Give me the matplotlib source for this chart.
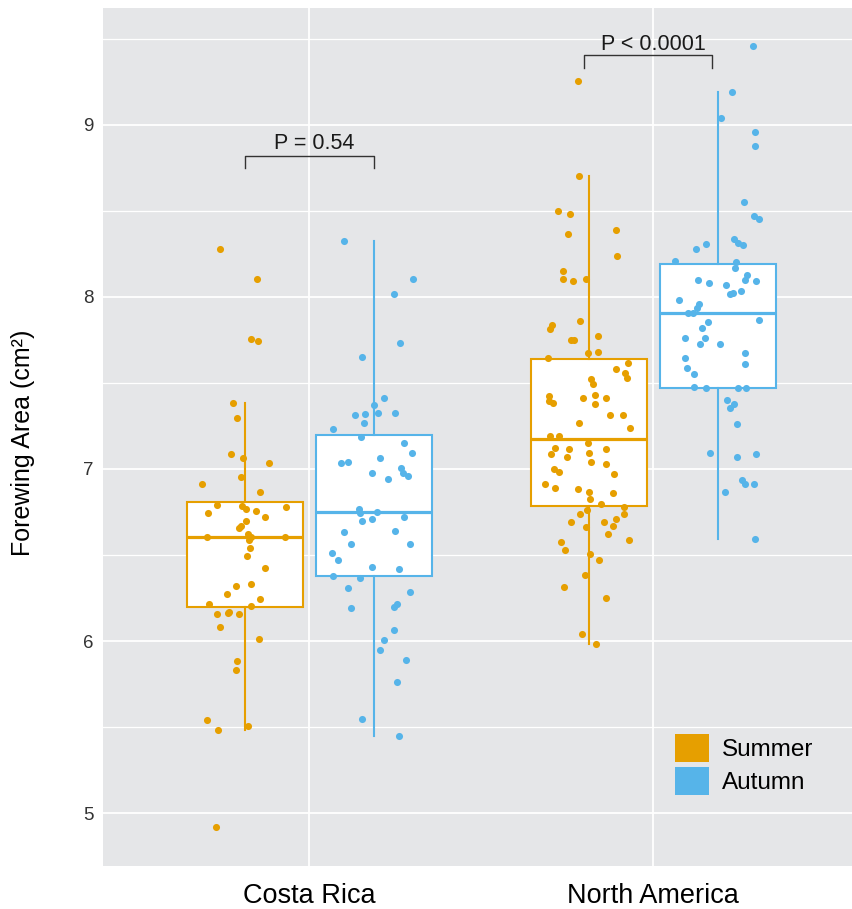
import matplotlib
matplotlib.use("Agg")
import matplotlib.pyplot as plt
from matplotlib.patches import Patch
from matplotlib.ticker import MultipleLocator

plt.rcParams["font.family"] = ["Liberation Sans", "DejaVu Sans"]

# --- data ---
regions = ["Costa Rica", "North America"]
seasons = ["Summer", "Autumn"]

cr_summer = [8.279, 8.105, 7.756, 7.745, 7.386, 7.297, 7.087, 7.064, 7.035, 6.911,
             6.953, 6.866, 6.789, 6.742, 6.783, 6.766, 6.758, 6.779, 6.721, 6.700,
             6.671, 6.657, 6.605, 6.620, 6.602, 6.587, 6.605, 6.543, 6.496, 6.423,
             6.320, 6.330, 6.272, 6.243, 6.214, 6.204, 6.155, 6.169, 6.155, 6.160,
             6.080, 6.010, 5.884, 5.834, 5.541, 5.483, 5.506, 4.917]
cr_summer_jit = [-0.071, 0.035, 0.019, 0.038, -0.035, -0.024, -0.039, -0.006, 0.070, -0.126,
                 -0.010, 0.045, -0.081, -0.107, -0.007, 0.003, 0.031, 0.121, 0.060, 0.002,
                 -0.010, -0.016, -0.110, 0.010, 0.019, 0.013, 0.118, 0.015, 0.006, 0.060,
                 -0.027, 0.019, -0.052, 0.045, -0.104, 0.017, -0.081, -0.046, -0.016, -0.048,
                 -0.071, 0.042, -0.023, -0.027, -0.110, -0.078, 0.009, -0.085]

cr_autumn = [8.324, 8.105, 8.017, 7.733, 7.653, 7.413, 7.370, 7.312, 7.318, 7.326,
             7.326, 7.267, 7.231, 7.188, 7.151, 7.093, 7.064, 7.035, 7.043, 7.008,
             6.977, 6.962, 6.977, 6.940, 6.770, 6.747, 6.750, 6.723, 6.700, 6.708,
             6.634, 6.642, 6.562, 6.562, 6.510, 6.473, 6.430, 6.417, 6.380, 6.365,
             6.307, 6.285, 6.213, 6.198, 6.190, 6.066, 6.008, 5.948, 5.890, 5.760,
             5.549, 5.446]
cr_autumn_jit = [-0.087, 0.113, 0.058, 0.076, -0.033, 0.029, 0.000, -0.054, -0.025, 0.011,
                 0.062, -0.029, -0.120, -0.037, 0.087, 0.110, 0.018, -0.094, -0.076, 0.079,
                 0.084, 0.098, -0.004, 0.040, -0.044, -0.040, 0.008, 0.087, -0.033, -0.004,
                 -0.087, 0.062, -0.065, 0.106, -0.123, -0.105, -0.004, 0.073, -0.119, -0.040,
                 -0.076, 0.106, 0.066, 0.059, -0.065, 0.059, 0.029, 0.018, 0.095, 0.066,
                 -0.033, 0.073]

na_summer = [9.256, 8.703, 8.498, 8.484, 8.368, 8.390, 8.237, 8.149, 8.106, 8.091,
             8.106, 7.837, 7.814, 7.859, 7.771, 7.750, 7.750, 7.674, 7.682, 7.647,
             7.618, 7.581, 7.560, 7.529, 7.523, 7.493, 7.425, 7.415, 7.429, 7.415,
             7.395, 7.384, 7.376, 7.314, 7.314, 7.270, 7.238, 7.191, 7.191, 7.153,
             7.122, 7.115, 7.115, 7.085, 7.093, 7.072, 7.043, 7.028, 6.998, 6.983,
             6.969, 6.911, 6.890, 6.882, 6.869, 6.859, 6.825, 6.795, 6.781, 6.764,
             6.737, 6.737, 6.708, 6.692, 6.692, 6.671, 6.663, 6.621, 6.590, 6.576,
             6.531, 6.504, 6.473, 6.386, 6.313, 6.249, 6.043, 5.985]
na_summer_jit = [-0.032, -0.029, -0.090, -0.054, -0.061, 0.080, 0.083, -0.076, -0.076, -0.047,
                 -0.007, -0.108, -0.112, -0.025, 0.026, -0.053, -0.043, -0.003, 0.026, -0.119,
                 0.113, 0.080, 0.106, 0.110, 0.007, 0.012, -0.115, -0.017, 0.019, 0.049,
                 -0.116, -0.104, 0.019, 0.062, 0.099, -0.028, 0.121, -0.112, -0.086, -0.003,
                 -0.097, -0.057, 0.049, -0.111, 0.001, -0.064, 0.008, 0.051, -0.102, -0.086,
                 0.074, -0.127, -0.097, -0.032, 0.001, 0.071, 0.005, 0.037, 0.102, -0.006,
                 -0.025, 0.102, 0.078, -0.053, 0.045, 0.070, -0.007, 0.055, 0.116, -0.082,
                 -0.068, 0.005, 0.030, -0.010, -0.072, 0.051, -0.021, 0.022]

na_autumn = [9.461, 9.192, 9.039, 8.957, 8.878, 8.551, 8.471, 8.453, 8.339, 8.312,
             8.301, 8.310, 8.281, 8.211, 8.202, 8.169, 8.128, 8.099, 8.091, 8.099,
             8.081, 8.068, 8.033, 8.025, 8.017, 7.983, 7.959, 7.936, 7.909, 7.909,
             7.857, 7.865, 7.822, 7.764, 7.764, 7.727, 7.727, 7.674, 7.647, 7.610,
             7.587, 7.552, 7.477, 7.471, 7.471, 7.471, 7.401, 7.376, 7.353, 7.260,
             7.093, 7.072, 7.087, 6.934, 6.911, 6.911, 6.866, 6.592]
na_autumn_jit = [0.102, 0.042, 0.010, 0.109, 0.109, 0.077, 0.106, 0.119, 0.047, 0.060,
                 0.073, -0.033, -0.063, -0.125, 0.054, 0.050, 0.086, 0.079, 0.112, -0.058,
                 -0.026, 0.025, 0.068, 0.044, 0.037, -0.112, -0.055, -0.059, -0.087, -0.073,
                 -0.029, 0.119, -0.045, -0.095, -0.037, -0.051, 0.007, 0.079, -0.095, 0.078,
                 -0.088, -0.070, -0.070, -0.033, 0.060, 0.083, 0.028, 0.047, 0.036, 0.057,
                 -0.022, 0.057, 0.112, 0.071, 0.079, 0.106, 0.021, 0.108]

p_labels = ["P = 0.54", "P < 0.0001"]

# --- style ---
c_summer = "#E69F00"
c_autumn = "#56B4E9"
dodge = 0.1875
box_w = 0.3375

fig = plt.figure(figsize=(8.53, 9.09), dpi=100)
ax = fig.add_axes([103 / 853, 43 / 909, 750 / 853, 858 / 909])
ax.set_facecolor("#E5E6E8")
for s in ax.spines.values():
    s.set_visible(False)

ax.set_xlim(0.4, 2.581)
ax.set_ylim(4.692, 9.680)
ax.set_yticks([5, 6, 7, 8, 9])
ax.yaxis.set_minor_locator(MultipleLocator(0.5))
ax.set_xticks([1, 2])
ax.set_xticklabels(regions)
ax.set_axisbelow(True)
ax.grid(which="major", color="white", lw=1.3)
ax.grid(which="minor", axis="y", color="white", lw=0.9)
ax.tick_params(which="both", length=0)
ax.tick_params(axis="y", labelsize=13.5, labelcolor="#333333", pad=6.5)
ax.tick_params(axis="x", labelsize=19.5, labelcolor="black", pad=12)

groups = [
    (1 - dodge, cr_summer, cr_summer_jit, c_summer),
    (1 + dodge, cr_autumn, cr_autumn_jit, c_autumn),
    (2 - dodge, na_summer, na_summer_jit, c_summer),
    (2 + dodge, na_autumn, na_autumn_jit, c_autumn),
]

for pos, vals, jit, col in groups:
    ax.boxplot([vals], positions=[pos], widths=box_w, whis=1.5, showfliers=False,
               showcaps=False, patch_artist=True, manage_ticks=False,
               boxprops=dict(facecolor="white", edgecolor=col, lw=1.5),
               whiskerprops=dict(color=col, lw=1.5),
               medianprops=dict(color=col, lw=2.3),
               zorder=2)
    ax.scatter([pos + j for j in jit], vals, s=26, color=col, lw=0, zorder=3)

# significance brackets
brackets = [
    (1 - dodge, 1 + dodge, 1.015, 8.82, 8.752, 8.86),
    (1.80, 2.17, 2.0, 9.407, 9.33, 9.436),
]
for (x0, x1, xt, yl, yb, yt), lab in zip(brackets, p_labels):
    ax.plot([x0, x0, x1, x1], [yb, yl, yl, yb], color="#333333", lw=1, zorder=4)
    ax.text(xt, yt, lab, ha="center", va="baseline", fontsize=15.5, color="#1a1a1a")

fig.text(23 / 853, 1 - 443 / 909, "Forewing Area (cm²)", rotation=90,
         ha="center", va="center", fontsize=18)

handles = [Patch(facecolor=c_summer, edgecolor="none", label=seasons[0]),
           Patch(facecolor=c_autumn, edgecolor="none", label=seasons[1])]
ax.legend(handles=handles, loc="upper left",
          bbox_to_anchor=(675 / 853, 1 - 734 / 909), bbox_transform=fig.transFigure,
          frameon=False, fontsize=17.5, handlelength=1.4, handleheight=1.4,
          handletextpad=0.55, labelspacing=0.2, borderpad=0, borderaxespad=0)

fig.savefig("out.png", dpi=100)
